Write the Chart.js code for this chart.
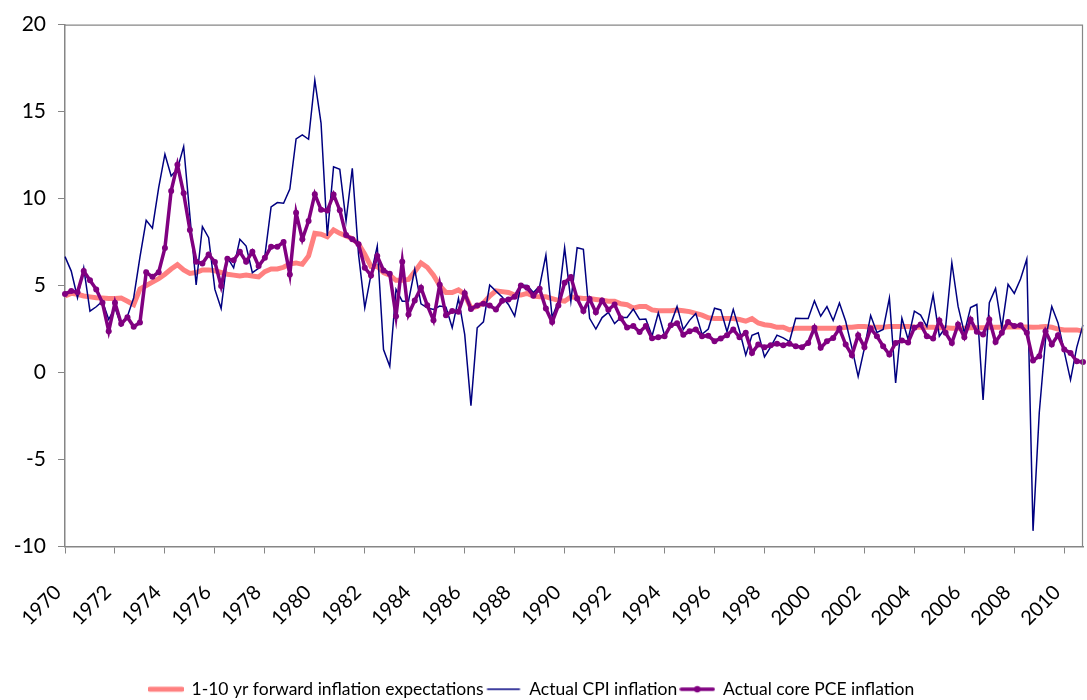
<!DOCTYPE html>
<html>
<head>
<meta charset="utf-8">
<script src="https://cdn.jsdelivr.net/npm/chart.js@4.4.1/dist/chart.umd.min.js"></script>
<style>
  body { margin: 0; background: #fff; }
  #wrap { width: 1087px; height: 700px; }
</style>
</head>
<body>
<div id="wrap"><canvas id="myChart"></canvas></div>
<script>
// quarterly categories 1970Q1 .. 2010Q4
var firstYear = 1970, lastYear = 2010;
var quarters = [];
for (var y = firstYear; y <= lastYear; y++) {
  for (var q = 1; q <= 4; q++) quarters.push(y + 'Q' + q);
}

var yTicks = [-10, -5, 0, 5, 10, 15, 20];

var expectations = [
  4.4, 4.55, 4.5, 4.4, 4.35, 4.3, 4.28, 4.25,
  4.25, 4.28, 4.1, 3.9, 4.8, 5.0, 5.2, 5.4,
  5.65, 5.95, 6.2, 5.9, 5.7, 5.75, 5.9, 5.9,
  5.85, 5.75, 5.65, 5.6, 5.55, 5.6, 5.55, 5.5,
  5.8, 5.95, 5.95, 6.05, 6.25, 6.3, 6.22, 6.7,
  8.0, 7.95, 7.8, 8.2, 8.0, 7.85, 7.7, 7.4,
  6.8, 6.1, 6.1, 5.75, 5.6, 5.3, 5.3, 5.35,
  5.8, 6.3, 6.05, 5.6, 5.0, 4.6, 4.6, 4.75,
  4.5, 3.7, 3.8, 4.0, 4.4, 4.7, 4.65, 4.6,
  4.45, 4.45, 4.55, 4.4, 4.35, 4.35, 4.25, 4.15,
  4.1, 4.35, 4.3, 4.25, 4.25, 4.2, 4.15, 4.1,
  4.1, 3.95, 3.9, 3.7, 3.8, 3.8, 3.6, 3.55,
  3.55, 3.55, 3.6, 3.55, 3.5, 3.4, 3.3, 3.15,
  3.1, 3.1, 3.1, 3.1, 3.05, 2.95, 3.1, 2.85,
  2.75, 2.7, 2.6, 2.6, 2.45, 2.55, 2.55, 2.55,
  2.55, 2.55, 2.55, 2.55, 2.55, 2.6, 2.6, 2.65,
  2.65, 2.6, 2.6, 2.6, 2.65, 2.65, 2.65, 2.65,
  2.62, 2.6, 2.6, 2.6, 2.58, 2.58, 2.55, 2.55,
  2.55, 2.58, 2.58, 2.58, 2.6, 2.6, 2.6, 2.62,
  2.62, 2.62, 2.62, 2.6, 2.62, 2.65, 2.6, 2.5,
  2.45, 2.45, 2.45, 2.38
];

var cpi = [
  6.66, 5.83, 4.30, 6.02, 3.53, 3.78, 4.10, 3.05,
  3.72, 2.70, 3.24, 4.30, 6.64, 8.75, 8.3, 10.63,
  12.55, 11.3, 11.7, 12.99, 9.0, 5.03, 8.38, 7.75,
  4.78, 3.68, 6.6, 6.02, 7.66, 7.27, 5.74, 5.99,
  6.70, 9.52, 9.77, 9.73, 10.55, 13.43, 13.66, 13.41,
  16.8, 14.33, 7.85, 11.82, 11.68, 8.71, 11.74, 6.79,
  3.72, 5.64, 7.27, 1.32, 0.36, 4.78, 4.10, 4.10,
  5.93, 3.95, 3.72, 3.63, 3.82, 3.76, 2.57, 4.26,
  2.19, -1.9, 2.57, 2.91, 5.03, 4.68, 4.34, 3.91,
  3.24, 5.03, 5.0, 4.6, 4.97, 6.75, 3.18, 4.10,
  7.17, 4.10, 7.17, 7.08, 3.12, 2.5, 3.16, 3.46,
  2.81, 3.16, 3.16, 3.65, 3.05, 3.08, 2.1, 3.43,
  2.14, 2.8, 3.8, 2.48, 3.0, 3.4, 2.2, 2.5,
  3.7, 3.6, 2.35, 3.63, 2.4, 1.0, 2.14, 2.28,
  0.9, 1.47, 2.15, 1.99, 1.78, 3.12, 3.11, 3.1,
  4.12, 3.24, 3.79, 2.99, 4.0, 2.95, 1.42, -0.23,
  1.4, 3.28, 2.3, 2.48, 4.28, -0.6, 3.12, 1.9,
  3.53, 3.3, 2.64, 4.47, 2.09, 2.6, 6.31, 3.8,
  2.28, 3.74, 3.91, -1.58, 4.01, 4.84, 2.55, 5.07,
  4.55, 5.38, 6.52, -9.1, -2.3, 1.9, 3.79, 2.85,
  1.2, -0.42, 1.45, 2.74
];

var corePce = [
  4.52, 4.68, 4.62, 5.83, 5.31, 4.78, 4.01, 2.38,
  4.01, 2.80, 3.18, 2.63, 2.88, 5.76, 5.50, 5.77,
  7.16, 10.44, 11.95, 10.30, 8.19, 6.37, 6.27, 6.79,
  6.35, 4.97, 6.54, 6.45, 6.94, 6.37, 6.94, 6.12,
  6.60, 7.23, 7.23, 7.50, 5.64, 9.19, 7.66, 8.71,
  10.25, 9.36, 9.31, 10.23, 9.33, 7.9, 7.66, 7.37,
  6.02, 5.58, 6.70, 5.87, 5.68, 3.24, 6.37, 3.34,
  4.14, 4.87, 3.87, 3.0, 5.05, 3.29, 3.53, 3.49,
  4.56, 3.65, 3.86, 3.96, 3.85, 3.63, 4.12, 4.2,
  4.35, 5.0, 4.87, 4.42, 4.81, 3.68, 2.9, 3.86,
  5.16, 5.49, 4.25, 3.53, 4.23, 3.46, 4.14, 3.61,
  3.91, 3.12, 2.59, 2.67, 2.33, 2.67, 1.97, 2.03,
  2.09, 2.72, 2.83, 2.17, 2.38, 2.48, 2.08, 2.12,
  1.80, 1.96, 2.14, 2.48, 2.03, 2.28, 1.13, 1.61,
  1.46, 1.57, 1.65, 1.57, 1.65, 1.51, 1.46, 1.70,
  2.57, 1.42, 1.80, 1.99, 2.53, 1.61, 1.0, 2.15,
  1.46, 2.53, 2.09, 1.51, 1.04, 1.70, 1.84, 1.73,
  2.57, 2.76, 2.09, 1.96, 2.99, 2.28, 1.70, 2.76,
  2.03, 3.05, 2.34, 2.19, 3.05, 1.76, 2.28, 2.91,
  2.67, 2.72, 2.28, 0.69, 0.94, 2.38, 1.61, 2.15,
  1.32, 1.13, 0.65, 0.61
];

var axisGray = '#868686';
var fontName = 'Lato';

// little legend samples (line, line, line with a dot)
function legendIcon(color, width, dot) {
  var c = document.createElement('canvas');
  c.width = 36; c.height = 10;
  var g = c.getContext('2d');
  g.strokeStyle = color;
  g.lineWidth = width;
  g.lineCap = 'round';
  g.beginPath();
  g.moveTo(2, 5); g.lineTo(34, 5);
  g.stroke();
  if (dot) {
    g.fillStyle = color;
    g.beginPath();
    g.arc(18, 5, 3.2, 0, Math.PI * 2);
    g.fill();
  }
  return c;
}
var icons = [
  legendIcon('#FF8080', 5, false),
  legendIcon('#000080', 1.3, false),
  legendIcon('#800080', 3.5, true)
];

var plotBox = {
  id: 'plotBox',
  afterLayout: function(chart) {
    // legend sits a little left of centre and low in the original
    chart.legend.left -= 11;
    chart.legend.right -= 11;
    chart.legend.top += 8;
    chart.legend.bottom += 8;
  },
  afterDraw: function(chart) {
    var a = chart.chartArea, ctx = chart.ctx;
    ctx.save();
    ctx.strokeStyle = axisGray;
    ctx.lineWidth = 1.2;
    ctx.beginPath();
    ctx.moveTo(a.left, a.top + 0.5);
    ctx.lineTo(a.right - 0.5, a.top + 0.5);
    ctx.lineTo(a.right - 0.5, a.bottom);
    ctx.stroke();
    ctx.restore();
  }
};

new Chart('myChart', {
  type: 'line',
  data: {
    labels: quarters,
    datasets: [{
      label: '1-10 yr forward inflation expectations',
      data: expectations,
      borderColor: '#FF8080',
      borderWidth: 5,
      pointRadius: 0,
      fill: false,
      order: 3
    }, {
      label: 'Actual CPI inflation',
      data: cpi,
      borderColor: '#000080',
      borderWidth: 1.5,
      pointRadius: 0,
      fill: false,
      order: 2
    }, {
      label: 'Actual core PCE inflation',
      data: corePce,
      borderColor: '#800080',
      borderWidth: 3.5,
      pointRadius: 3,
      pointBackgroundColor: '#800080',
      pointBorderWidth: 0,
      fill: false,
      order: 1
    }]
  },
  options: {
    responsive: true,
    maintainAspectRatio: false,
    animation: false,
    layout: { padding: { top: 24, right: 2, left: 0, bottom: 0 } },
    plugins: {
      tooltip: { enabled: false },
      legend: {
        position: 'bottom',
        labels: {
          usePointStyle: true,
          pointStyleWidth: 34,
          padding: 3,
          color: '#000',
          font: { family: fontName, size: 17.5 },
          generateLabels: function(chart) {
            return chart.data.datasets.map(function(ds, i) {
              return {
                text: ds.label,
                pointStyle: icons[i],
                fillStyle: 'rgba(0,0,0,0)',
                strokeStyle: 'rgba(0,0,0,0)',
                lineWidth: 0,
                hidden: false,
                datasetIndex: i,
                fontColor: '#000'
              };
            });
          }
        }
      }
    },
    scales: {
      x: {
        offset: false,
        afterFit: function(scale) {
          scale.height = 123;
          scale.paddingLeft = 0;
          scale.paddingRight = 0;
        },
        border: { color: axisGray, width: 1.5 },
        grid: {
          drawOnChartArea: false,
          tickLength: 7,
          lineWidth: 1,
          color: function(ctx) { return ctx.index % 8 === 0 ? axisGray : 'rgba(0,0,0,0)'; }
        },
        ticks: {
          autoSkip: false,
          minRotation: 45,
          maxRotation: 45,
          padding: 27,
          labelOffset: -7,
          color: '#000',
          font: { family: fontName, size: 20 },
          callback: function(value, index) {
            return index % 8 === 0 ? quarters[index].slice(0, 4) : '';
          }
        }
      },
      y: {
        min: yTicks[0],
        max: yTicks[yTicks.length - 1],
        afterFit: function(scale) { scale.width = 65; },
        afterBuildTicks: function(scale) {
          scale.ticks = yTicks.map(function(v) { return { value: v }; });
        },
        border: { color: axisGray, width: 1.5 },
        grid: { drawOnChartArea: false, tickLength: 7, color: axisGray },
        ticks: {
          padding: 12,
          color: '#000',
          font: { family: fontName, size: 21 }
        }
      }
    }
  },
  plugins: [plotBox]
});
</script>
</body>
</html>
